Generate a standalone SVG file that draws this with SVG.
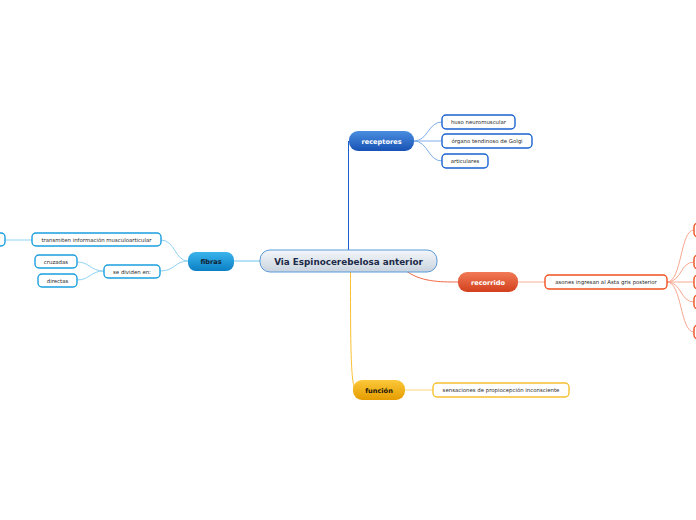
<svg xmlns="http://www.w3.org/2000/svg" width="696" height="520" viewBox="0 0 696 520">
<defs>
<linearGradient id="gc" x1="0" y1="0" x2="0" y2="1"><stop offset="0" stop-color="#f4f7fa"/><stop offset="1" stop-color="#c9d3de"/></linearGradient>
<linearGradient id="gb" x1="0" y1="0" x2="0" y2="1"><stop offset="0" stop-color="#4a8ee0"/><stop offset="1" stop-color="#1852b4"/></linearGradient>
<linearGradient id="gf" x1="0" y1="0" x2="0" y2="1"><stop offset="0" stop-color="#3bb4ec"/><stop offset="1" stop-color="#0a7fc4"/></linearGradient>
<linearGradient id="gr" x1="0" y1="0" x2="0" y2="1"><stop offset="0" stop-color="#f27a56"/><stop offset="1" stop-color="#d2401e"/></linearGradient>
<linearGradient id="gy" x1="0" y1="0" x2="0" y2="1"><stop offset="0" stop-color="#fcc83a"/><stop offset="1" stop-color="#e49c00"/></linearGradient>
</defs>
<style>
.t{font-family:"DejaVu Sans",Verdana,sans-serif;font-size:5.4px;fill:#2a2a2a;text-anchor:middle;dominant-baseline:central}
.m{font-family:"DejaVu Sans",Verdana,sans-serif;font-weight:bold;font-size:6.6px;text-anchor:middle;dominant-baseline:central}
.c{fill:none;stroke-width:1}
.sb{fill:#fff;stroke:#1a62d0;stroke-width:1.4}
.sf{fill:#fff;stroke:#1a9ee0;stroke-width:1.4}
.sr{fill:#fff;stroke:#f0501e;stroke-width:1.4}
.sy{fill:#fff;stroke:#f8c030;stroke-width:1.4}
</style>
<g id="connectors">
<path class="c" d="M348.5,250 L348.5,141" stroke="#1a5fd0" stroke-width="1.5"/>
<path class="c" d="M414,141 C428,141 428,122 442,122" stroke="#7eaee8"/>
<path class="c" d="M414,141 L442,141" stroke="#7eaee8"/>
<path class="c" d="M414,141 C428,141 428,161 442,161" stroke="#7eaee8"/>
<path class="c" d="M260,261 L234,261" stroke="#6cc4ee"/>
<path class="c" d="M188,261 C175,261 175,240 161,240" stroke="#8ed2f2"/>
<path class="c" d="M188,261 C175,261 175,271 160,271" stroke="#8ed2f2"/>
<path class="c" d="M32,240 L5,240" stroke="#8ed2f2"/>
<path class="c" d="M104,271 C90,271 90,262 77,262" stroke="#8ed2f2"/>
<path class="c" d="M104,271 C90,271 90,280 77,280" stroke="#8ed2f2"/>
<path class="c" d="M405,270 C420,282 440,282 458,282" stroke="#f06a48" stroke-width="1.2"/>
<path class="c" d="M518,282 L545,282" stroke="#f8b098"/>
<path class="c" d="M667,282 C682,282 680,230 694,230" stroke="#f8a890"/>
<path class="c" d="M667,282 C682,282 680,262 694,262" stroke="#f8a890"/>
<path class="c" d="M667,282 L694,282" stroke="#f8a890"/>
<path class="c" d="M667,282 C682,282 680,302 694,302" stroke="#f8a890"/>
<path class="c" d="M667,282 C682,282 680,332 694,332" stroke="#f8a890"/>
<path class="c" d="M350.5,272 C350.5,340 350.5,388 356,390" stroke="#f8c030" stroke-width="1.3"/>
<path class="c" d="M405,390 L433,390" stroke="#fcd880"/>
</g>
<g id="central">
<rect x="260" y="250" width="177" height="22" rx="10" fill="url(#gc)" stroke="#5a9ad8" stroke-width="1"/>
<text class="m" x="348.5" y="261.5" style="font-size:8.8px;fill:#1c2a48">Via Espinocerebelosa anterior</text>
</g>
<g id="receptores">
<rect x="349" y="131" width="65" height="20" rx="9" fill="url(#gb)"/>
<text class="m" x="381.5" y="141.5" fill="#fff">receptores</text>
</g>
<g id="huso"><rect class="sb" x="442" y="115" width="73" height="14" rx="4"/><text class="t" x="478.5" y="122">huso neuromuscular</text></g>
<g id="organo"><rect class="sb" x="442" y="134" width="90" height="14" rx="4"/><text class="t" x="487" y="141">órgano tendinoso de Golgi</text></g>
<g id="articulares"><rect class="sb" x="442" y="154" width="46" height="14" rx="4"/><text class="t" x="465" y="161">articulares</text></g>
<g id="fibras">
<rect x="188" y="252" width="46" height="19" rx="8" fill="url(#gf)"/>
<text class="m" x="211" y="261.5" fill="#102030">fibras</text>
</g>
<g id="transmiten"><rect class="sf" x="32" y="233" width="129" height="13" rx="4"/><text class="t" x="96.5" y="239.5">transmiten información musculoarticular</text></g>
<g id="partial-left"><rect class="sf" x="-20" y="233" width="25" height="13" rx="4"/></g>
<g id="sedividen"><rect class="sf" x="104" y="265" width="56" height="13" rx="4"/><text class="t" x="132" y="271.5">se dividen en:</text></g>
<g id="cruzadas"><rect class="sf" x="35" y="255" width="42" height="13" rx="4"/><text class="t" x="56" y="261.5">cruzadas</text></g>
<g id="directas"><rect class="sf" x="38" y="274" width="39" height="13" rx="4"/><text class="t" x="57.5" y="280.5">directas</text></g>
<g id="recorrido">
<rect x="458" y="272" width="60" height="20" rx="9" fill="url(#gr)"/>
<text class="m" x="488" y="282.5" fill="#fff">recorrido</text>
</g>
<g id="asones"><rect class="sr" x="545" y="275" width="122" height="14" rx="4"/><text class="t" x="606" y="282">asones ingresan al Asta gris posterior</text></g>
<g id="partial-right">
<rect class="sr" x="694" y="223" width="30" height="14" rx="4"/>
<rect class="sr" x="694" y="255" width="30" height="14" rx="4"/>
<rect class="sr" x="694" y="275" width="30" height="14" rx="4"/>
<rect class="sr" x="694" y="295" width="30" height="14" rx="4"/>
<rect class="sr" x="694" y="325" width="30" height="14" rx="4"/>
</g>
<g id="funcion">
<rect x="353" y="380" width="52" height="20" rx="9" fill="url(#gy)"/>
<text class="m" x="379" y="390.5" fill="#1a1408">función</text>
</g>
<g id="sensaciones"><rect class="sy" x="433" y="383" width="136" height="14" rx="4"/><text class="t" x="501" y="390">sensaciones de propiocepción inconsciente</text></g>
</svg>
